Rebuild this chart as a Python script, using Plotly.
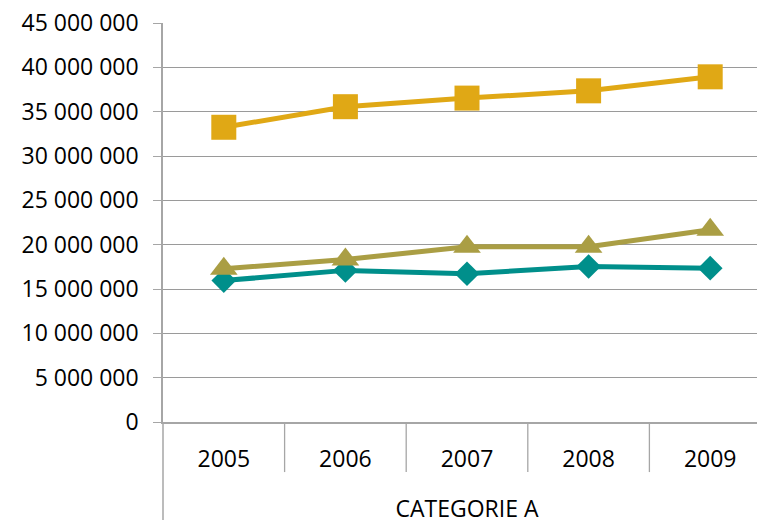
import plotly.graph_objects as go

years = ["2005", "2006", "2007", "2008", "2009"]
group_label = "CATEGORIE A"
series_squares = [33240000, 35560000, 36530000, 37350000, 38930000]
series_triangles = [17280000, 18330000, 19760000, 19760000, 21680000]
series_diamonds = [15950000, 17100000, 16720000, 17540000, 17350000]
y_ticks = [0, 5000000, 10000000, 15000000, 20000000, 25000000, 30000000, 35000000, 40000000, 45000000]

FONT = "Open Sans"
FS = 23
AXIS_GRAY = "#A6A6A6"
fig = go.Figure()
fig.add_trace(go.Scatter(x=years, y=series_diamonds, mode="lines+markers",
                         line=dict(color="#008F8B", width=5),
                         marker=dict(symbol="diamond", size=19, color="#008F8B")))
fig.add_trace(go.Scatter(x=years, y=series_triangles, mode="lines+markers",
                         line=dict(color="#AA9E44", width=5),
                         marker=dict(symbol="triangle-up", size=24, color="#AA9E44")))
fig.add_trace(go.Scatter(x=years, y=series_squares, mode="lines+markers",
                         line=dict(color="#E0A815", width=5),
                         marker=dict(symbol="square", size=25, color="#E0A815")))

fig.update_layout(
    width=765, height=520,
    margin=dict(l=155, r=2, t=15, b=106),
    paper_bgcolor="white", plot_bgcolor="white",
    showlegend=False,
    separators=", ",
    font=dict(family=FONT, size=FS, color="#000000"),
)
fig.update_yaxes(range=[0, 45000000], tickvals=y_ticks, tickformat=",d",
                 automargin=False, ticklabeloverflow="allow",
                 showgrid=True, gridcolor="#9A9A9A", gridwidth=1.3,
                 showline=True, linecolor=AXIS_GRAY, linewidth=1.5,
                 ticks="outside", ticklen=8, tickcolor=AXIS_GRAY, tickwidth=1.3,
                 ticklabelstandoff=10, zeroline=False,
                 tickfont=dict(family=FONT, size=FS))
fig.update_xaxes(type="category", range=[-0.5, 4.5], automargin=False,
                 showline=True, linecolor=AXIS_GRAY, linewidth=1.5,
                 ticks="", showgrid=False, ticklabelstandoff=16,
                 tickfont=dict(family=FONT, size=FS),
                 title=dict(text=group_label, font=dict(family=FONT, size=FS), standoff=28))
# category dividers below the axis
for i in range(len(years) - 1):
    fig.add_shape(type="line", xref="x", yref="paper", x0=i + 0.5, x1=i + 0.5,
                  y0=0, y1=-0.1255, line=dict(color=AXIS_GRAY, width=1.3))
fig.add_shape(type="line", xref="paper", yref="paper", x0=0, x1=0, y0=0, y1=-0.3,
              line=dict(color=AXIS_GRAY, width=1.5))
fig.write_html("out.html")
